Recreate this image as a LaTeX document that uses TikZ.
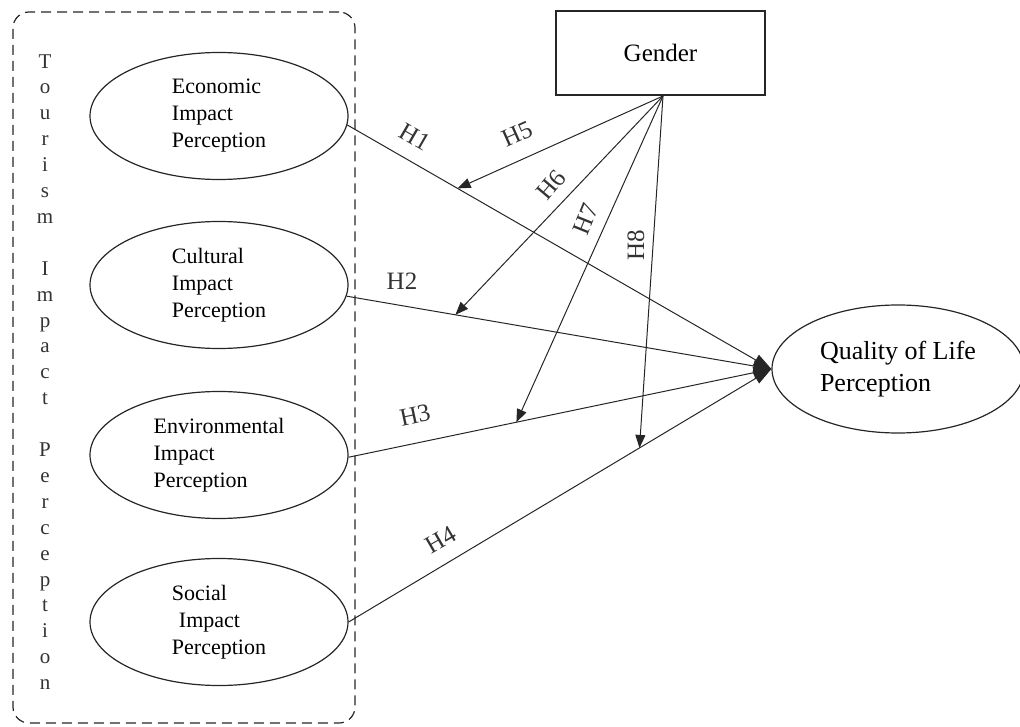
\documentclass[tikz,border=0pt]{standalone}
\usepackage{fontspec}
\setmainfont{Liberation Serif}
\usetikzlibrary{shapes.geometric,arrows.meta,calc}

\begin{document}
\begin{tikzpicture}[
    x=1pt, y=-1pt, % pixel grid, origin top left
    line width=1pt,
    dashbox/.style = {draw=black!85, dash pattern=on 10pt off 6pt, line width=1.2pt, rounded corners=16pt},
    construct/.style = {ellipse, draw=black!85, line width=1.2pt, minimum width=258pt, minimum height=127pt, align=left, font=\fontsize{22}{27}\selectfont},
    hyp/.style = {-{Triangle[length=13pt,width=10pt]}, draw=black!85, line width=1pt},
    direct/.style = {-{Triangle[length=18pt,width=12pt]}, draw=black!85, line width=1pt},
    hlabel/.style = {font=\fontsize{25}{25}\selectfont, text=black!80, inner sep=1pt}
    ]
    \useasboundingbox (0,0) rectangle (1020,727);

    % tourism impact block
    \node (frame) [dashbox, minimum width=342pt, minimum height=711pt] at (184,367.5) {};
    \node (vtitle) [align=center, font=\fontsize{21}{25.9}\selectfont, text=black!80] at (45,372)
        {T\\o\\u\\r\\i\\s\\m\\[25.9pt]I\\m\\p\\a\\c\\t\\[25.9pt]P\\e\\r\\c\\e\\p\\t\\i\\o\\n};
    \node[construct] (econ) at (219,116) {Economic\\Impact\\Perception};
    \node[construct] (cult) at (219,285) {Cultural\\Impact\\Perception};
    \node[construct] (env) at (219,455) {Environmental\\Impact\\Perception};
    \node[construct] (soc) at (219,622) {Social\\\hspace{7pt}Impact\\Perception};

    % outcome and moderator
    \node[construct, minimum width=252pt, minimum height=128pt, font=\fontsize{26}{32}\selectfont] (qol) at (898,369) {Quality of Life\\Perception};
    \node (gender) [draw=black!85, line width=1.3pt, minimum width=209pt, minimum height=84pt, font=\fontsize{25}{25}\selectfont] at (660.5,53) {Gender};
    \coordinate (gsrc) at (663,96);

    % direct effects
    \draw[direct] (econ.-4) -- (qol.west);
    \draw[direct] (cult.-5) -- (qol.west);
    \draw[direct] (env.-1) -- (qol.west);
    \draw[direct] (soc.0) -- (qol.west);

    % moderation
    \coordinate (m5) at ($(econ.-4)!0.26!(qol.west)$);
    \coordinate (m6) at ($(cult.-5)!0.256!(qol.west)$);
    \coordinate (m7) at ($(env.-1)!0.397!(qol.west)$);
    \coordinate (m8) at ($(soc.0)!0.688!(qol.west)$);
    \draw[hyp] (gsrc) -- (m5);
    \draw[hyp] (gsrc) -- (m6);
    \draw[hyp] (gsrc) -- (m7);
    \draw[hyp] (gsrc) -- (m8);

    \node[hlabel, rotate=-30] (l1) at (415,137) {H1};
    \node[hlabel] (l2) at (402,281) {H2};
    \node[hlabel, rotate=12] (l3) at (415,415) {H3};
    \node[hlabel, rotate=30] (l4) at (441,540) {H4};
    \node[hlabel, rotate=24] (l5) at (517,134) {H5};
    \node[hlabel, rotate=50] (l6) at (551,185) {H6};
    \node[hlabel, rotate=68] (l7) at (586,219) {H7};
    \node[hlabel, rotate=90] (l8) at (636,245) {H8};
\end{tikzpicture}
\end{document}
